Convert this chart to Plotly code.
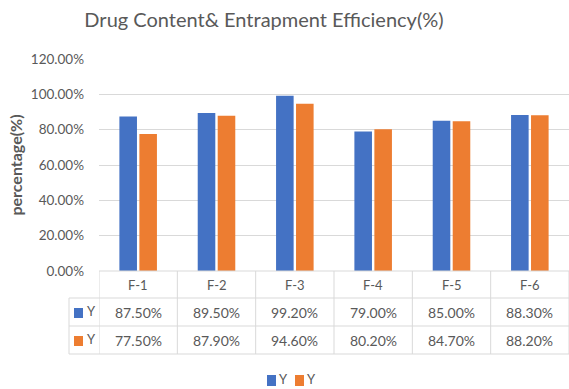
import plotly.graph_objects as go

categories = ["F-1", "F-2", "F-3", "F-4", "F-5", "F-6"]
drug_content = [87.5, 89.5, 99.2, 79.0, 85.0, 88.3]
entrapment = [77.5, 87.9, 94.6, 80.2, 84.7, 88.2]
series_names = ["Y", "Y"]
colors = ["#4472C4", "#ED7D31"]

W, H = 569, 389
L, R, T, B = 99, 0, 59, 118
PW, PH = W - L - R, H - T - B
FONT = "Lato, Open Sans, sans-serif"
GRAY = "#595959"
LINE = "#D9D9D9"


def px2y(py):
    return (H - B - py) / PH


def px2x(px):
    return (px - L) / PW


fig = go.Figure()
for name, vals, col in zip(series_names, [drug_content, entrapment], colors):
    fig.add_trace(go.Bar(x=categories, y=vals, name=name, marker_color=col,
                         marker_line_width=0, showlegend=False))

shapes = []
annotations = []
# table horizontal lines
for py in [298, 326, 354]:
    shapes.append(dict(type="line", xref="paper", yref="paper", x0=px2x(69), x1=1,
                       y0=px2y(py), y1=px2y(py), line=dict(color=LINE, width=1)))
shapes.append(dict(type="line", xref="paper", yref="paper", x0=0, x1=1,
                   y0=0, y1=0, line=dict(color=LINE, width=1)))
# vertical lines
for i in range(len(categories) + 1):
    shapes.append(dict(type="line", xref="x", yref="paper", x0=i - 0.5, x1=i - 0.5,
                       y0=0, y1=px2y(354), line=dict(color=LINE, width=1)))
shapes.append(dict(type="line", xref="paper", yref="paper", x0=px2x(69), x1=px2x(69),
                   y0=px2y(298), y1=px2y(354), line=dict(color=LINE, width=1)))

cell_font = dict(family=FONT, size=14, color=GRAY)
# header text
for c in categories:
    annotations.append(dict(x=c, xref="x", y=px2y(284.5), yref="paper", text=c,
                            xanchor="center", yanchor="middle",
                            showarrow=False, font=dict(family=FONT, size=13, color=GRAY)))
for r, (vals, col, name) in enumerate(zip([drug_content, entrapment], colors, series_names)):
    yc = 312 + r * 28
    for c, v in zip(categories, vals):
        annotations.append(dict(x=c, xref="x", y=px2y(yc), yref="paper", text=f"{v:.2f}%",
                                xanchor="center", yanchor="middle",
                                showarrow=False, font=cell_font))
    shapes.append(dict(type="rect", xref="paper", yref="paper", x0=px2x(74), x1=px2x(83),
                       y0=px2y(yc + 6), y1=px2y(yc - 4), fillcolor=col, line_width=0))
    annotations.append(dict(x=px2x(85), xref="paper", y=px2y(yc - 1), yref="paper", text=name,
                            xanchor="left", yanchor="middle", showarrow=False,
                            font=dict(family=FONT, size=13, color=GRAY)))

# bottom legend
for k, (name, col) in enumerate(zip(series_names, colors)):
    x0 = 267 + k * 28
    shapes.append(dict(type="rect", xref="paper", yref="paper", x0=px2x(x0), x1=px2x(x0 + 9),
                       y0=px2y(386), y1=px2y(375), fillcolor=col, line_width=0))
    annotations.append(dict(x=px2x(x0 + 10), xref="paper", y=px2y(379), yref="paper", text=name,
                            xanchor="left", yanchor="middle", showarrow=False,
                            font=dict(family=FONT, size=13, color=GRAY)))

fig.update_layout(
    width=W, height=H,
    margin=dict(l=L, r=R, t=T, b=B, pad=0),
    paper_bgcolor="white", plot_bgcolor="white",
    barmode="group", bargap=0.49, bargroupgap=0.12,
    title=dict(text="Drug Content& Entrapment Efficiency(%)", x=264 / W, xanchor="center",
               y=1 - 20 / H, yanchor="middle",
               font=dict(family=FONT, size=20, color=GRAY)),
    showlegend=False,
    xaxis=dict(showticklabels=False, showgrid=False, zeroline=False, showline=False,
               ticks="", range=[-0.5, 5.5]),
    yaxis=dict(range=[0, 120], dtick=20, tickformat=".2f", ticksuffix="%",
               showgrid=True, gridcolor=LINE, gridwidth=1, zeroline=False, showline=False,
               ticks="", ticklabelstandoff=14,
               tickfont=dict(family=FONT, size=13.5, color=GRAY),
               title=dict(text="<b>percentage(%)</b>", standoff=4,
                          font=dict(family=FONT, size=16, color=GRAY))),
    shapes=shapes,
    annotations=annotations,
)

fig.write_html("out.html")
